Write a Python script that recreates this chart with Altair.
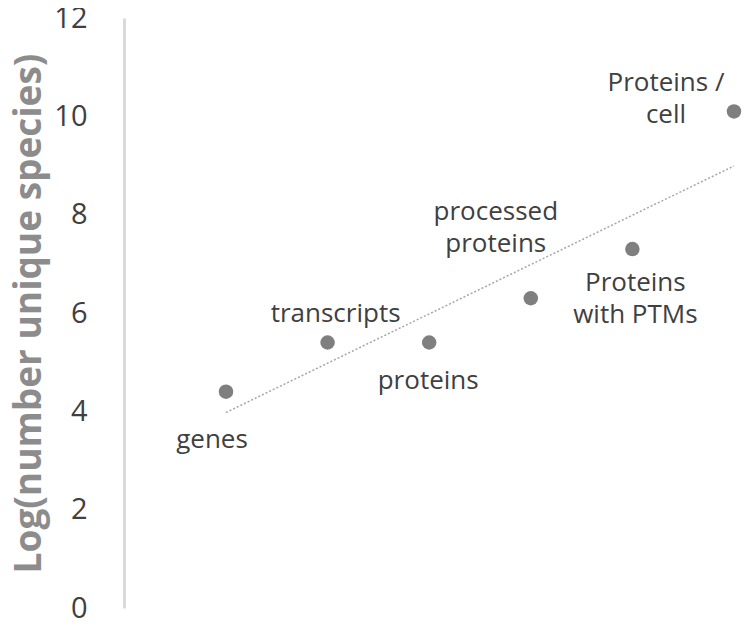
import altair as alt
import pandas as pd

# ---- data ----
idx = [1, 2, 3, 4, 5, 6]
categories = ["genes", "transcripts", "proteins", "processed proteins",
              "Proteins with PTMs", "Proteins / cell"]
labels = ["genes", "transcripts", "proteins", "processed\nproteins",
          "Proteins\nwith PTMs", "Proteins /\ncell"]
values = [4.4, 5.4, 5.4, 6.3, 7.3, 10.1]
y_ticks = [0, 2, 4, 6, 8, 10, 12]

df = pd.DataFrame({"idx": idx, "category": categories, "label": labels, "value": values})

FONT = "Open Sans"

x_enc = alt.X("idx:Q", axis=None, scale=alt.Scale(domain=[-0.0039, 6.079], nice=False, zero=False))
y_enc = alt.Y("value:Q",
              scale=alt.Scale(domain=[0, 12], nice=False),
              axis=alt.Axis(values=y_ticks, grid=False, ticks=False,
                            domainColor="#d9d9d9", domainWidth=3,
                            labelFontSize=29, labelColor="#404040", labelFont=FONT,
                            labelPadding=37,
                            title="Log(number unique species)",
                            titleFont=FONT, titleFontSize=37, titleFontWeight="bold",
                            titleColor="#8c8c8c", titlePadding=5))

base = alt.Chart(df)

points = base.mark_circle(size=210, color="#7f7f7f", opacity=1).encode(x=x_enc, y=y_enc)

trend = base.transform_regression("idx", "value").mark_line(
    color="#a6a6a6", strokeWidth=1.5, strokeDash=[2, 2]
).encode(x=x_enc, y=y_enc)

# label offsets (pixels, first line) relative to each point
offsets = {1: (-14, 48), 2: (8, -29), 3: (-1, 38), 4: (-35, -86), 5: (3, 34), 6: (-68, -28)}

text_layers = []
for i in idx:
    dx, dy = offsets[i]
    text_layers.append(
        base.transform_filter(alt.datum.idx == i).mark_text(
            dx=dx, dy=dy, fontSize=26, font=FONT, color="#404040",
            lineBreak="\n", lineHeight=32, align="center", baseline="middle"
        ).encode(x=x_enc, y=y_enc, text="label:N")
    )

chart = alt.layer(trend, points, *text_layers).properties(
    width=618, height=590,
    autosize=alt.AutoSizeParams(type="none"),
    padding={"left": 116, "top": 10, "right": 0, "bottom": 14},
).configure_view(stroke=None)

chart.save("out.html", embed_options={"renderer": "svg", "actions": False})
